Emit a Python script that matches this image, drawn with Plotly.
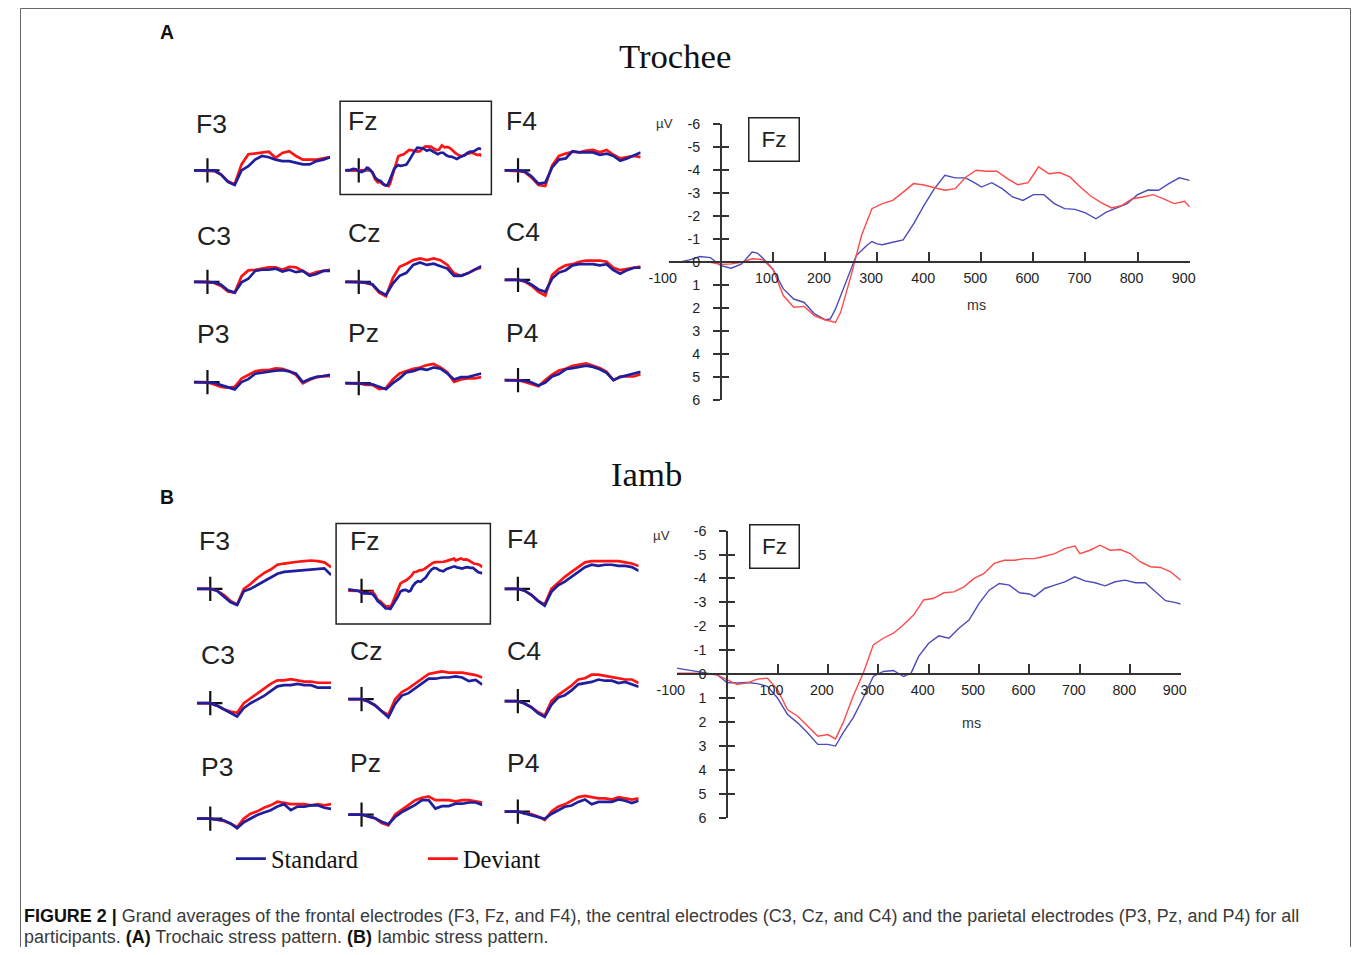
import plotly.graph_objects as go

W, H = 1357, 955

# The photographed page comes back slightly shrunk and shifted (about 0.98x, +22px, +9px);
# positions are pre-compensated so the picture lines up with the reference.
AX, BX = 0.979, 22.5
AY, BY = 0.980, 9.1
S = 1 / 0.98  # size compensation


def px(x):
    return ((x - BX) / AX) / W


def py(y):
    return 1 - ((y - BY) / AY) / H


def pagey(y):
    return (y - BY) / AY


# ---------------- data ----------------
# Large Fz, Trochee (A)
fzA_std_t = [-100, -80, -60, -40, -20, 0, 20, 40, 60, 70, 80, 100, 120, 140, 160, 180, 200, 210, 220, 240, 260, 280, 290,
             300, 310, 330, 350, 370, 390, 410, 430, 450, 470, 490, 500, 520, 540, 560, 580, 600, 620, 640, 660, 680,
             700, 720, 740, 760, 780, 800, 820, 840, 860, 880, 900]
fzA_std_v = [0, 0, -0.1, -0.25, -0.2, 0.15, 0.26, 0.07, -0.44, -0.4, -0.2, 0.3, 1.16, 1.6, 1.75, 2.25, 2.5, 2.47, 2.04,
             0.87, -0.29, -0.73, -0.9, -0.8, -0.76, -0.87, -0.97, -1.67, -2.47, -3.2, -3.78, -3.67, -3.67, -3.42,
             -3.27, -3.46, -3.2, -2.84, -2.69, -2.94, -2.94, -2.55, -2.33, -2.3, -2.15, -1.89, -2.18, -2.36, -2.55,
             -2.94, -3.14, -3.13, -3.42, -3.67, -3.56]
fzA_dev_t = [-100, -60, -20, 0, 20, 40, 60, 80, 100, 120, 140, 160, 180, 200, 220, 230, 250, 270, 290, 310, 330, 350,
             370, 390, 410, 430, 450, 470, 490, 510, 530, 550, 570, 590, 610, 630, 650, 670, 690, 710, 730, 750, 770,
             790, 810, 830, 850, 870, 890, 900]
fzA_dev_v = [0, 0, 0, 0.1, 0.07, 0, -0.15, -0.12, 0.3, 1.45, 1.96, 1.92, 2.33, 2.5, 2.62, 2.18, 0.58, -1.16, -2.33,
             -2.55, -2.69, -3.05, -3.42, -3.36, -3.23, -3.13, -3.2, -3.7, -4.0, -3.96, -3.96, -3.64, -3.37, -3.46,
             -4.15, -3.85, -3.9, -3.71, -3.27, -2.88, -2.59, -2.36, -2.47, -2.76, -2.84, -2.94, -2.76, -2.55, -2.65,
             -2.4]

# Large Fz, Iamb (B)
fzB_std_t = [-100, -80, -60, -40, -20, 0, 20, 40, 60, 80, 100, 120, 140, 160, 180, 200, 215, 230, 250, 270, 290, 310,
             330, 350, 365, 380, 400, 420, 440, 460, 480, 500, 520, 540, 560, 580, 600, 610, 630, 650, 670, 690, 710,
             730, 750, 770, 790, 810, 830, 850, 870, 890, 900]
fzB_std_v = [-0.25, -0.18, -0.11, -0.07, 0.03, 0.35, 0.37, 0.35, 0.4, 0.51, 1.0, 1.69, 2.04, 2.46, 2.94, 2.94, 3.01,
             2.46, 1.83, 1.0, 0.1, -0.11, -0.15, 0.1, -0.04, -0.74, -1.29, -1.6, -1.5, -1.92, -2.26, -2.96, -3.51,
             -3.79, -3.72, -3.4, -3.35, -3.24, -3.58, -3.72, -3.86, -4.07, -3.9, -3.82, -3.69, -3.86, -3.93, -3.82,
             -3.82, -3.44, -3.07, -2.99, -2.93]
fzB_dev_t = [-100, -60, -20, 0, 20, 40, 60, 80, 100, 120, 140, 160, 180, 200, 215, 230, 250, 270, 290, 310, 330, 350,
             370, 390, 410, 430, 450, 470, 490, 510, 530, 550, 570, 590, 610, 630, 650, 670, 690, 700, 720, 740, 760,
             780, 800, 820, 840, 860, 880, 900]
fzB_dev_v = [-0.04, -0.04, 0.03, 0.24, 0.44, 0.37, 0.21, 0.17, 0.65, 1.49, 1.76, 2.18, 2.6, 2.53, 2.71, 2.04, 0.93,
             -0.04, -1.22, -1.5, -1.71, -2.06, -2.47, -3.1, -3.17, -3.4, -3.44, -3.65, -4.0, -4.21, -4.63, -4.76,
             -4.76, -4.83, -4.83, -4.93, -5.04, -5.25, -5.35, -5.04, -5.18, -5.39, -5.18, -5.21, -5.04, -4.69, -4.49,
             -4.46, -4.28, -3.93]

# Small electrode panels (time axis shared)
t_small = [-100, -50, 0, 50, 100, 150, 200, 250, 300, 350, 400, 450, 500, 550, 600, 650, 700, 750, 800, 850, 900]

F3A_std = [0, 0, 0, 0, 0.7, 1.9, 2.4, 0, -0.7, -1.8, -2.4, -2.2, -1.8, -1.55, -1.55, -1.3, -1.0, -1.0, -1.55, -1.8, -2.2]
F3A_dev = [0, 0, 0.1, 0.1, 0.7, 1.8, 2.3, -1.0, -2.7, -2.8, -2.9, -3.1, -2.1, -2.9, -3.2, -2.4, -1.8, -1.8, -1.8, -2.0, -2.2]
F4A_std = [0, 0, 0, 0.2, 1.0, 2.2, 2.0, -0.5, -1.8, -2.0, -3.2, -3.0, -3.0, -3.0, -2.6, -2.8, -2.4, -1.6, -2.0, -2.5, -3.0]
F4A_dev = [0, 0, 0.1, 0.3, 1.2, 2.4, 2.6, -0.8, -2.4, -2.8, -3.1, -3.0, -3.3, -3.4, -3.0, -3.4, -2.6, -2.0, -2.2, -2.4, -2.2]
C3A_std = [0, 0, 0, 0.1, 0.5, 1.4, 1.8, 0.1, -0.5, -1.8, -2.0, -2.0, -2.2, -1.7, -2.0, -1.6, -1.8, -1.0, -1.3, -1.8, -1.8]
C3A_dev = [0, 0, 0, 0.2, 0.7, 1.6, 1.8, -0.9, -1.9, -2.0, -2.2, -2.4, -2.4, -2.0, -2.5, -2.4, -1.8, -1.2, -1.6, -1.8, -2.0]
CzA_std = [0, 0, 0, 0.1, 0.4, 1.6, 2.2, 0.3, -1.0, -1.5, -2.8, -3.2, -2.8, -3.0, -2.6, -2.2, -1.0, -1.0, -1.4, -2.0, -2.6]
CzA_dev = [0, 0, 0, 0.2, 0.5, 1.8, 2.4, -0.6, -2.5, -3.0, -3.6, -3.9, -3.6, -3.9, -3.6, -2.8, -1.4, -1.0, -1.4, -2.0, -2.4]
C4A_std = [0, 0, 0, 0.2, 0.8, 1.6, 2.0, -0.2, -1.2, -1.6, -2.4, -2.6, -2.6, -2.6, -2.4, -2.6, -1.6, -1.0, -1.6, -2.0, -2.0]
C4A_dev = [0, 0, 0, 0.3, 1.0, 2.0, 2.6, -0.8, -1.8, -2.4, -2.6, -3.0, -3.2, -3.2, -3.2, -3.0, -2.0, -1.6, -1.8, -2.0, -2.2]
P3A_std = [0, 0, 0, 0.1, 0.5, 0.8, 1.2, 0.0, -0.5, -1.4, -1.6, -1.8, -1.9, -2.0, -1.8, -1.4, 0.0, -0.5, -0.9, -1.0, -1.2]
P3A_dev = [0, 0, 0, 0.4, 0.8, 0.9, 0.8, -0.6, -1.2, -1.8, -2.0, -2.0, -2.3, -2.2, -1.8, -1.2, 0.2, -0.4, -0.8, -1.0, -1.0]
PzA_std = [0, 0, 0, 0.1, 0.2, 0.6, 1.0, 0.0, -0.8, -1.8, -2.0, -2.4, -2.2, -2.6, -2.4, -1.6, -0.6, -1.0, -1.0, -1.3, -1.6]
PzA_dev = [0, 0, 0, 0.3, 0.3, 1.0, 0.8, -0.6, -1.6, -2.0, -2.4, -2.6, -3.0, -3.2, -2.6, -1.8, -0.2, -0.6, -0.8, -0.8, -1.0]
P4A_std = [0, 0, 0, 0.1, 0.4, 0.9, 0.4, -0.6, -1.0, -1.8, -2.0, -2.2, -2.4, -2.2, -1.8, -1.2, 0.0, -0.5, -0.8, -1.0, -1.4]
P4A_dev = [0, 0, 0, 0.3, 0.6, 1.0, 0.0, -0.9, -1.6, -1.9, -2.4, -2.6, -2.8, -2.4, -2.0, -1.4, 0.0, -0.6, -0.6, -0.6, -1.0]

F3B_std = [0, 0, 0, 0.3, 1.2, 2.2, 2.7, 0.4, 0.0, -0.6, -1.2, -1.8, -2.5, -2.8, -2.9, -3.1, -3.2, -3.2, -3.3, -3.4, -2.3]
F3B_dev = [0, 0, 0, 0.3, 1.0, 2.0, 2.6, 0.0, -0.8, -1.8, -2.6, -3.2, -4.0, -4.2, -4.4, -4.5, -4.6, -4.7, -4.6, -4.4, -3.6]
F4B_std = [0, 0, 0, 0.3, 1.0, 2.0, 2.8, 0.5, -0.6, -1.2, -2.0, -2.8, -3.6, -4.0, -3.8, -4.0, -4.0, -3.8, -3.8, -3.6, -3.0]
F4B_dev = [0, 0, 0, 0.3, 1.0, 2.0, 2.6, 0.0, -1.0, -2.0, -2.8, -3.6, -4.4, -4.6, -4.6, -4.7, -4.6, -4.6, -4.4, -4.2, -3.8]
C3B_std = [0, 0, 0, 0.4, 1.0, 1.6, 2.2, 0.8, 0.0, -0.6, -1.2, -2.0, -2.8, -3.0, -3.0, -3.2, -3.0, -3.0, -2.6, -2.6, -2.6]
C3B_dev = [0, 0, 0, 0.4, 1.0, 1.4, 1.6, 0.0, -0.8, -1.6, -2.4, -3.2, -3.8, -3.8, -4.0, -3.8, -3.6, -3.6, -3.4, -3.4, -3.4]
CzB_std = [0, 0, 0, 0.4, 1.0, 2.0, 3.0, 0.8, -0.6, -1.0, -1.8, -2.6, -3.4, -3.4, -3.6, -3.6, -3.8, -3.6, -3.0, -3.2, -2.4]
CzB_dev = [0, 0, 0, 0.4, 1.0, 2.0, 2.6, 0.0, -1.2, -1.8, -2.6, -3.4, -4.2, -4.4, -4.6, -4.4, -4.4, -4.4, -4.2, -4.0, -3.6]
C4B_std = [0, 0, 0, 0.4, 1.0, 2.0, 2.6, 0.6, -0.6, -1.0, -1.8, -2.8, -3.0, -3.2, -3.6, -3.4, -3.4, -3.0, -3.2, -2.8, -2.4]
C4B_dev = [0, 0, 0, 0.4, 1.0, 1.8, 2.4, 0.0, -1.0, -1.8, -2.6, -3.6, -3.8, -4.4, -4.4, -4.2, -4.0, -3.8, -3.6, -3.6, -3.0]
P3B_std = [0, 0, 0, 0.2, 0.3, 0.8, 1.6, 0.6, 0.0, -0.6, -1.0, -1.4, -2.0, -2.4, -1.4, -2.0, -2.0, -2.2, -2.2, -1.8, -1.6]
P3B_dev = [0, 0, 0, 0.2, 0.4, 0.8, 1.4, 0.0, -0.8, -1.2, -1.8, -2.2, -2.8, -2.6, -2.4, -2.4, -2.4, -2.2, -2.4, -2.2, -2.4]
PzB_std = [0, 0, 0, 0.3, 0.6, 1.2, 1.6, 0.4, -0.4, -1.0, -1.6, -2.4, -2.4, -1.0, -1.4, -1.4, -1.8, -1.8, -2.0, -2.0, -1.6]
PzB_dev = [0, 0, 0, 0.3, 0.6, 1.4, 1.8, 0.0, -0.8, -1.6, -2.4, -2.8, -3.0, -2.4, -2.4, -2.4, -2.2, -2.4, -2.4, -2.2, -2.0]
P4B_std = [0, 0, 0, 0.3, 0.6, 1.0, 1.2, 0.4, -0.2, -0.8, -1.0, -1.6, -2.0, -1.2, -1.6, -1.6, -1.6, -2.0, -1.8, -1.4, -1.8]
P4B_dev = [0, 0, 0, 0.3, 0.4, 0.8, 1.4, 0.0, -0.8, -1.2, -1.8, -2.4, -2.6, -2.4, -2.2, -2.2, -2.0, -2.4, -2.2, -2.0, -2.2]

origin_t = [0]
origin_v = [0]

big_xticks = [-100, 100, 200, 300, 400, 500, 600, 700, 800, 900]
big_yticks = [-6, -5, -4, -3, -2, -1, 0, 1, 2, 3, 4, 5, 6]

# ---------------- styling / geometry ----------------
STD_SMALL = "#1f1f9e"
DEV_SMALL = "#ff1414"
STD_BIG = "#4b4bbb"
DEV_BIG = "#ff4a4a"
SANS = "Liberation Sans, Arial, sans-serif"
SERIF = "Liberation Serif, Times New Roman, serif"

panelsA = [
    # (label, std_t, std, dev_t, dev, x0, baseline, label_x, label_y)
    ("F3", t_small, F3A_std, t_small, F3A_dev, 196, 171, 196, 125),
    ("Fz", fzA_std_t, fzA_std_v, fzA_dev_t, fzA_dev_v, 347, 171, 348, 122),
    ("F4", t_small, F4A_std, t_small, F4A_dev, 506, 171, 506, 122),
    ("C3", t_small, C3A_std, t_small, C3A_dev, 196, 282, 197, 236),
    ("Cz", t_small, CzA_std, t_small, CzA_dev, 347, 282, 348, 233),
    ("C4", t_small, C4A_std, t_small, C4A_dev, 506, 280, 506, 232),
    ("P3", t_small, P3A_std, t_small, P3A_dev, 196, 382, 197, 334),
    ("Pz", t_small, PzA_std, t_small, PzA_dev, 347, 383, 348, 333),
    ("P4", t_small, P4A_std, t_small, P4A_dev, 506, 380, 506, 333),
]
panelsB = [
    ("F3", t_small, F3B_std, t_small, F3B_dev, 199, 588, 199, 540),
    ("Fz", fzB_std_t, fzB_std_v, fzB_dev_t, fzB_dev_v, 350, 590, 350, 540),
    ("F4", t_small, F4B_std, t_small, F4B_dev, 506, 588, 507, 538),
    ("C3", t_small, C3B_std, t_small, C3B_dev, 199, 702, 201, 654),
    ("Cz", t_small, CzB_std, t_small, CzB_dev, 350, 698, 350, 650),
    ("C4", t_small, C4B_std, t_small, C4B_dev, 506, 700, 507, 650),
    ("P3", t_small, P3B_std, t_small, P3B_dev, 199, 817, 201, 766),
    ("Pz", t_small, PzB_std, t_small, PzB_dev, 350, 813, 350, 762),
    ("P4", t_small, P4B_std, t_small, P4B_dev, 506, 810, 507, 762),
]

fig = go.Figure()
layout = dict(
    width=W, height=H, margin=dict(l=0, r=0, t=0, b=0),
    paper_bgcolor="white", plot_bgcolor="white",
    showlegend=True,
    legend=dict(orientation="h", x=px(233), y=py(857), xanchor="left", yanchor="middle",
                font=dict(family=SERIF, size=24 * S, color="#111"), entrywidth=147, entrywidthmode="pixels",
                bgcolor="rgba(0,0,0,0)", itemclick=False, itemdoubleclick=False),
)
annotations = []
shapes = []

idx = 0
for panels, width_px in ((panelsA, 136), (panelsB, 134)):
    for (lab, st_t, st, dv_t, dv, x0, base, lx, ly) in panels:
        idx += 1
        xa = "xaxis" if idx == 1 else f"xaxis{idx}"
        ya = "yaxis" if idx == 1 else f"yaxis{idx}"
        xr = "x" if idx == 1 else f"x{idx}"
        yr = "y" if idx == 1 else f"y{idx}"
        layout[xa] = dict(domain=[px(x0), px(x0 + width_px)], range=[-100, 900], visible=False,
                          anchor=yr, fixedrange=True)
        layout[ya] = dict(domain=[py(base + 36), py(base - 36)], range=[6, -6], visible=False,
                          anchor=xr, fixedrange=True)
        fig.add_trace(go.Scatter(x=origin_t, y=origin_v, mode="markers", xaxis=xr, yaxis=yr,
                                 marker=dict(symbol="cross-thin", size=17 * S, line=dict(width=2.2, color="#111")),
                                 showlegend=False, hoverinfo="skip"))
        first = idx == 1
        fig.add_trace(go.Scatter(x=dv_t, y=dv, mode="lines", xaxis=xr, yaxis=yr, name="Deviant",
                                 line=dict(color=DEV_SMALL, width=2.7), showlegend=first, legendrank=2))
        fig.add_trace(go.Scatter(x=st_t, y=st, mode="lines", xaxis=xr, yaxis=yr, name="Standard",
                                 line=dict(color=STD_SMALL, width=2.7), showlegend=first, legendrank=1))
        annotations.append(dict(text=lab, x=px(lx), y=py(ly), xref="paper", yref="paper", xanchor="left",
                                yanchor="middle", showarrow=False,
                                font=dict(family=SANS, size=26 * S, color="#222")))

# Boxes around small Fz panels
shapes.append(dict(type="rect", xref="paper", yref="paper", x0=px(342), x1=px(493), y0=py(195), y1=py(102),
                   line=dict(color="#222", width=1.5)))
shapes.append(dict(type="rect", xref="paper", yref="paper", x0=px(338), x1=px(492), y0=py(623), y1=py(523),
                   line=dict(color="#222", width=1.5)))

# Big Fz plots
big = [
    # (std_t, std, dev_t, dev, xpx0, xpx1, ypx_top, ypx_bot, axis_idx, overlay_idx)
    (fzA_std_t, fzA_std_v, fzA_dev_t, fzA_dev_v, 670, 1190, 125, 400, 19, 21),
    (fzB_std_t, fzB_std_v, fzB_dev_t, fzB_dev_v, 678, 1181, 530, 816, 20, 22),
]
tickfont = dict(family=SANS, size=14 * S, color="#222")
for (st_t, st, dv_t, dv, x0p, x1p, ytp, ybp, ai, oi) in big:
    zero_y = py((ytp + ybp) / 2)
    zero_x = px(x0p + (x1p - x0p) * 0.1)
    layout[f"xaxis{ai}"] = dict(domain=[px(x0p), px(x1p)], range=[-100, 900], anchor="free", position=zero_y,
                                showline=True, linecolor="#333", linewidth=1.5, showgrid=False, zeroline=False,
                                ticks="inside", ticklen=9 * S, tickwidth=1.5, tickcolor="#333",
                                tickmode="array", tickvals=big_xticks, ticktext=[str(v) for v in big_xticks],
                                tickfont=tickfont, ticklabelstandoff=3, ticklabelshift=-6, fixedrange=True)
    layout[f"yaxis{ai}"] = dict(domain=[py(ybp), py(ytp)], range=[6, -6], anchor="free", position=zero_x,
                                showline=True, linecolor="#333", linewidth=1.5, showgrid=False, zeroline=False,
                                ticks="outside", ticklen=7 * S, tickwidth=1.5, tickcolor="#333",
                                tickmode="array", tickvals=big_yticks, ticktext=[str(v) for v in big_yticks],
                                tickfont=tickfont, ticklabelstandoff=10, fixedrange=True)
    layout[f"yaxis{oi}"] = dict(domain=[py(ybp), py(ytp)], range=[6, -6], anchor="free", position=zero_x,
                                overlaying=f"y{ai}", showline=False, showgrid=False, zeroline=False,
                                ticks="inside", ticklen=7 * S, tickwidth=1.5, tickcolor="#333",
                                tickmode="array", tickvals=big_yticks, showticklabels=False, fixedrange=True)
    fig.add_trace(go.Scatter(x=dv_t, y=dv, mode="lines", xaxis=f"x{ai}", yaxis=f"y{oi}", name="Deviant",
                             line=dict(color=DEV_BIG, width=1.4), showlegend=False))
    fig.add_trace(go.Scatter(x=st_t, y=st, mode="lines", xaxis=f"x{ai}", yaxis=f"y{ai}", name="Standard",
                             line=dict(color=STD_BIG, width=1.4), showlegend=False))


def ann(text, x, y, size, family=SANS, color="#222", xanchor="center", yval=None, **kw):
    d = dict(text=text, x=px(x), y=py(y) if yval is None else yval, xref="paper", yref="paper",
             xanchor=xanchor, yanchor="middle", showarrow=False,
             font=dict(family=family, size=size * S, color=color))
    d.update(kw)
    annotations.append(d)


# Fz boxes on big plots
ann("Fz", 775, 140, 22, bordercolor="#222", borderwidth=1.5, borderpad=0, width=49, height=42)
ann("Fz", 776, 546, 22, bordercolor="#222", borderwidth=1.5, borderpad=0, width=48, height=42)
ann("µV", 666, 124, 13, color="#333")
ann("µV", 663, 535, 13, color="#333")
ann("ms", 977, 305, 14, color="#333")
ann("ms", 972, 722, 14, color="#333")

# Titles and panel letters
ann("Trochee", 676, 57, 34, family=SERIF, color="#111")
ann("Iamb", 648, 474, 34, family=SERIF, color="#111")
ann("<b>A</b>", 169, 33, 19, color="#111")
ann("<b>B</b>", 169, 496, 19, color="#111")

# Caption
ann("<b><span style='color:#111'>FIGURE 2 |</span></b> Grand averages of the frontal electrodes (F3, Fz, and F4), "
    "the central electrodes (C3, Cz, and C4) and the parietal electrodes (P3, Pz, and P4) for all",
    24, 914, 17.6, color="#3a3a3a", xanchor="left")
ann("participants. <b><span style='color:#111'>(A)</span></b> Trochaic stress pattern. "
    "<b><span style='color:#111'>(B)</span></b> Iambic stress pattern.",
    24, 939, 17.6, color="#3a3a3a", xanchor="left", yval=1 - min(pagey(939), 945) / H)

# Outer frame (open at the bottom), kept inside the page
fx0, fx1, fy0, fy1 = 0.5 / W, (W - 0.5) / W, 1 - 0.5 / H, 0.0
shapes.append(dict(type="path", xref="paper", yref="paper",
                   path=f"M {fx0},{fy1} L {fx0},{fy0} L {fx1},{fy0} L {fx1},{fy1}",
                   line=dict(color="#666", width=1)))

layout["annotations"] = annotations
layout["shapes"] = shapes
fig.update_layout(**layout)

fig.write_html("out.html", config={"displayModeBar": False},
               post_script="document.body.style.margin='0';document.body.style.overflow='hidden';")
